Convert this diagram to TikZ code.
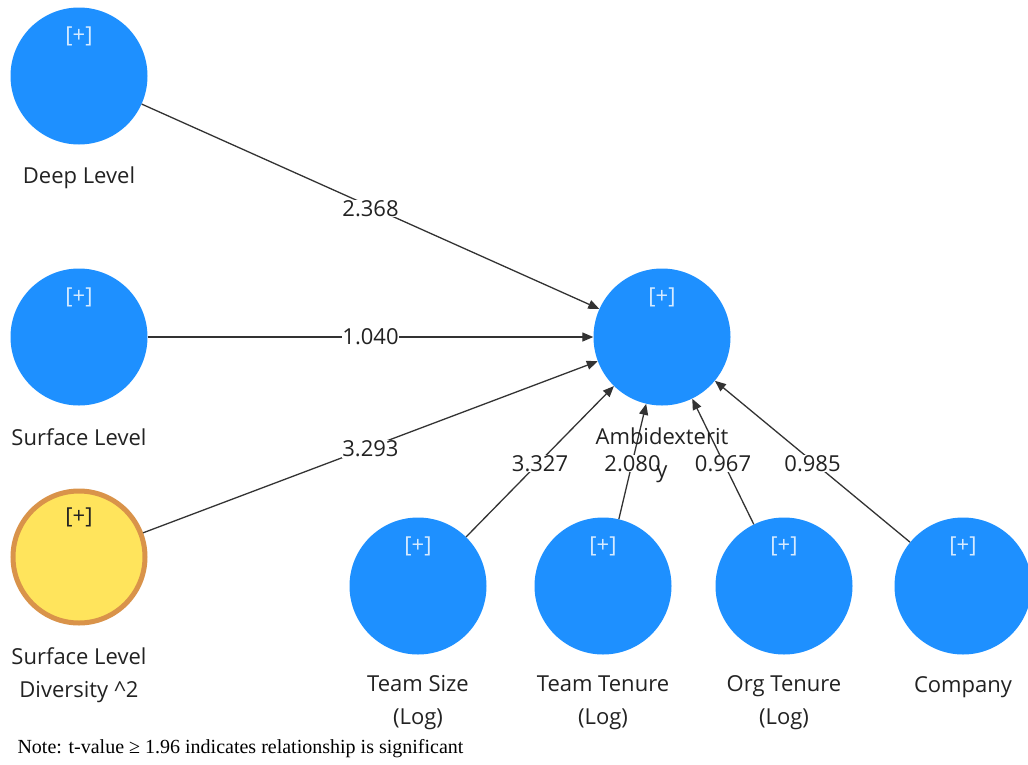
\documentclass[tikz,border=0pt]{standalone}
\usepackage{fontspec}
\setmainfont{Open Sans}
\newfontfamily\notefont{Liberation Serif}
\usetikzlibrary{arrows.meta}
\definecolor{lvblue}{RGB}{30,144,255}
\definecolor{lvyellow}{RGB}{255,228,92}
\definecolor{lvorange}{RGB}{217,147,74}
\definecolor{txt}{RGB}{34,34,34}
\definecolor{plusblue}{RGB}{215,235,255}
\tikzset{
  lv/.style={circle, fill=lvblue, minimum size=137pt, inner sep=0pt},
  lvsq/.style={circle, fill=lvyellow, draw=lvorange, line width=5pt, minimum size=132pt, inner sep=0pt},
  plus/.style={font=\fontsize{22}{26}\selectfont, text=plusblue},
  plusdark/.style={font=\fontsize{22}{26}\selectfont, text=txt},
  lvname/.style={font=\fontsize{22}{33}\selectfont, text=txt, align=center, anchor=center},
  path/.style={draw=black!80, line width=1.3pt, -{Triangle[length=11pt,width=9pt]}},
  coef/.style={font=\fontsize{22}{26}\selectfont, text=txt, fill=white, inner sep=0.5pt, pos=0.5, yshift=-2pt},
}
\begin{document}
\begin{tikzpicture}[x=1pt, y=-1pt]
\useasboundingbox (0,0) rectangle (1028,764);

% latent variables
\node[lv]   (deep) at (79,76)   {};
\node[lv]   (surf) at (79,337)  {};
\node[lvsq] (sld)  at (79,557)  {};
\node[lv]   (amb)  at (662,337) {};
\node[lv]   (tsz)  at (418,586) {};
\node[lv]   (tten) at (603,586) {};
\node[lv]   (oten) at (784,586) {};
\node[lv]   (comp) at (963,586) {};

% expand markers
\node[plus] at (79,36) {[+]};
\node[plus] at (79,297) {[+]};
\node[plusdark] at (79,517) {[+]};
\node[plus] at (662,297) {[+]};
\node[plus] at (418,546) {[+]};
\node[plus] at (603,546) {[+]};
\node[plus] at (784,546) {[+]};
\node[plus] at (963,546) {[+]};

% structural paths with t-values
\draw[path] (deep) -- node[coef] {2.368} (amb);
\draw[path] (surf) -- node[coef, yshift=2pt] {1.040} (amb);
\draw[path] (sld)  -- node[coef] {3.293} (amb);
\draw[path] (tsz)  -- node[coef] {3.327} (amb);
\draw[path] (tten) -- node[coef] {2.080} (amb);
\draw[path] (oten) -- node[coef] {0.967} (amb);
\draw[path] (comp) -- node[coef] {0.985} (amb);

% variable names
\node[lvname] (ldeep) at (79,178) {Deep Level};
\node[lvname] (lsurf) at (79,437) {Surface Level};
\node[lvname] (lsld)  at (79,675) {Surface Level\\Diversity \textasciicircum2};
\node[lvname] (lamb)  at (662,455) {Ambidexterit\\y};
\node[lvname] (ltsz)  at (418,703) {Team Size\\(Log)};
\node[lvname] (ltten) at (603,703) {Team Tenure\\(Log)};
\node[lvname] (loten) at (784,703) {Org Tenure\\(Log)};
\node[lvname] (lcomp) at (963,687) {Company};

% footnote
\node[anchor=west, font=\notefont\fontsize{20}{24}\selectfont, text=black] (note) at (14,749)
  {Note: t-value ≥ 1.96 indicates relationship is significant};
\end{tikzpicture}
\end{document}
